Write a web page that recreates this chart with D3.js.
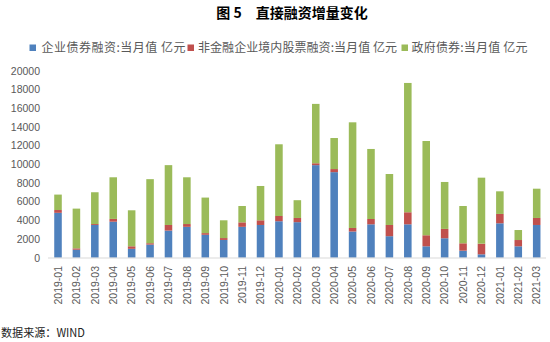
<!DOCTYPE html>
<html><head><meta charset="utf-8">
<script src="https://cdn.jsdelivr.net/npm/d3@7"></script>
<style>body{margin:0;background:#fff}svg{display:block}</style>
</head><body>
<script>
const categories = ["2019-01","2019-02","2019-03","2019-04","2019-05","2019-06","2019-07","2019-08","2019-09","2019-10","2019-11","2019-12","2020-01","2020-02","2020-03","2020-04","2020-05","2020-06","2020-07","2020-08","2020-09","2020-10","2020-11","2020-12","2021-01","2021-02","2021-03"];
const corpBond = [4800,850,3500,3850,950,1400,2900,3300,2450,1900,3300,3500,3900,3800,9900,9150,2800,3570,2300,3570,1220,2080,750,360,3680,1220,3500];
const equity   = [300,150,100,300,270,150,600,300,180,200,480,500,560,450,200,330,380,570,1200,1290,1180,1000,790,1140,1000,670,750];
const govBond  = [1650,4250,3400,4450,3850,6850,6400,5000,3800,1900,1750,3670,7670,1900,6350,3320,11300,7490,5450,13830,10080,5020,3990,7060,2420,1070,3130];
const yTicks = [0,2000,4000,6000,8000,10000,12000,14000,16000,18000,20000];
const seriesNames = ["企业债券融资:当月值 亿元","非金融企业境内股票融资:当月值 亿元","政府债券:当月值 亿元"];
const colors = ["#4F81BD","#C0504D","#9BBB59"];

const W=550,H=342;
const svg=d3.select("body").append("svg").attr("width",W).attr("height",H);
const cjk='"Noto Sans CJK SC","Microsoft YaHei",sans-serif';

svg.append("text").attr("x",292).attr("y",18).attr("text-anchor","middle")
  .attr("font-family",cjk).attr("font-size",14).attr("font-weight","bold").attr("fill","#000")
  .text("图 5　直接融资增量变化");

// legend
const legendItems=[{sq:29.5,tx:41.5,len:144},{sq:187.5,tx:198,len:199},{sq:401.5,tx:411.5,len:116}];
legendItems.forEach((d,i)=>{
  svg.append("rect").attr("x",d.sq).attr("y",44.5).attr("width",6.5).attr("height",6.5).attr("fill",colors[i]);
  svg.append("text").attr("x",d.tx).attr("y",52).attr("font-family",cjk).attr("font-size",12)
    .attr("fill","#595959").attr("textLength",d.len).attr("lengthAdjust","spacing").text(seriesNames[i]);
});

const x=d3.scaleBand().domain(categories).range([48.8,545.9]).paddingInner(0.59).paddingOuter(0.295);
const y=d3.scaleLinear().domain([0,20000]).range([257.7,70.7]);

const data=categories.map((c,i)=>({cat:c,s0:corpBond[i],s1:equity[i],s2:govBond[i]}));
const stack=d3.stack().keys(["s0","s1","s2"])(data);

svg.append("g").selectAll("g").data(stack).join("g").attr("fill",(d,i)=>colors[i])
  .selectAll("rect").data(d=>d).join("rect")
  .attr("x",d=>x(d.data.cat)).attr("width",x.bandwidth())
  .attr("y",d=>y(d[1])).attr("height",d=>y(d[0])-y(d[1]));

// axis line
svg.append("line").attr("x1",48).attr("x2",546).attr("y1",258).attr("y2",258).attr("stroke","#D9D9D9").attr("stroke-width",1);

// y axis labels
const yAxis=svg.append("g").attr("transform","translate(40,0)")
  .call(d3.axisLeft(y).tickValues(yTicks).tickSize(0).tickPadding(0).tickFormat(d3.format("d")));
yAxis.select(".domain").remove();
yAxis.selectAll("text").attr("font-family","'Liberation Sans',Arial,sans-serif").attr("font-size",10.5).attr("fill","#595959");

// x axis labels
const xAxis=svg.append("g").attr("transform","translate(0,258)")
  .call(d3.axisBottom(x).tickSize(0).tickPadding(0));
xAxis.select(".domain").remove();
xAxis.selectAll("text").attr("font-family","'Liberation Sans',Arial,sans-serif").attr("font-size",10.5).attr("fill","#595959")
  .attr("text-anchor","end").attr("dy",null).attr("y",0).attr("x",0)
  .attr("transform","translate(3.8,8) rotate(-90)");

svg.append("text").attr("x",1).attr("y",337).attr("font-family",cjk).attr("font-size",11.5)
  .attr("fill","#222").attr("textLength",84).attr("lengthAdjust","spacingAndGlyphs").text("数据来源：WIND");
</script>
</body></html>
